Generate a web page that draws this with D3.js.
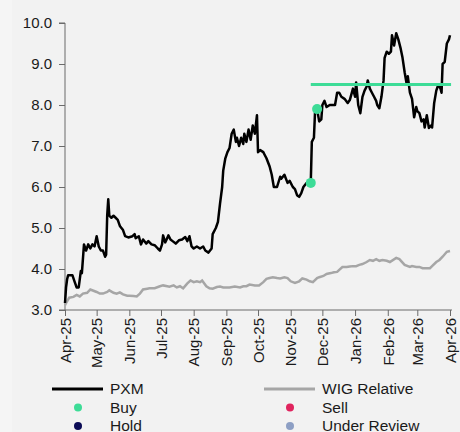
<!DOCTYPE html>
<html>
<head>
<meta charset="utf-8">
<script src="https://cdn.jsdelivr.net/npm/d3@7"></script>
<style>
  html, body { margin: 0; padding: 0; background: #f2f2f2; }
  svg { display: block; font-family: "Liberation Sans", Arial, sans-serif; }
  .axis path, .axis line { stroke: #6b6b6b; }
  .axis text { fill: #1a1a1a; font-size: 15px; }
</style>
</head>
<body>
<div id="chart"></div>
<script>
// PXM share price (PLN)
const pxm = [
  ["2025-04-01",3.17],["2025-04-02",3.55],["2025-04-03",3.75],["2025-04-04",3.85],["2025-04-08",3.85],
  ["2025-04-10",3.7],["2025-04-12",3.55],["2025-04-14",3.55],["2025-04-16",3.95],["2025-04-17",3.9],
  ["2025-04-19",4.6],["2025-04-21",4.45],["2025-04-23",4.6],["2025-04-25",4.5],["2025-04-27",4.6],
  ["2025-04-29",4.55],["2025-05-01",4.8],["2025-05-03",4.55],["2025-05-05",4.45],["2025-05-07",4.45],
  ["2025-05-09",4.3],["2025-05-10",4.35],["2025-05-11",5.3],["2025-05-12",5.7],["2025-05-13",5.3],
  ["2025-05-15",5.25],["2025-05-17",5.3],["2025-05-19",5.25],["2025-05-21",5.2],["2025-05-23",5.05],
  ["2025-05-26",4.95],["2025-05-28",4.8],["2025-05-31",4.77],["2025-06-04",4.8],["2025-06-06",4.85],
  ["2025-06-07",4.75],["2025-06-10",4.8],["2025-06-12",4.6],["2025-06-14",4.72],["2025-06-17",4.62],
  ["2025-06-19",4.68],["2025-06-22",4.6],["2025-06-25",4.58],["2025-06-28",4.5],["2025-06-30",4.45],
  ["2025-07-02",4.6],["2025-07-03",4.82],["2025-07-05",4.65],["2025-07-06",4.7],["2025-07-08",4.82],
  ["2025-07-10",4.72],["2025-07-12",4.68],["2025-07-15",4.62],["2025-07-18",4.7],["2025-07-21",4.72],
  ["2025-07-24",4.78],["2025-07-26",4.68],["2025-07-28",4.8],["2025-07-30",4.55],["2025-08-01",4.5],
  ["2025-08-04",4.55],["2025-08-07",4.5],["2025-08-10",4.55],["2025-08-12",4.45],["2025-08-15",4.4],
  ["2025-08-18",4.5],["2025-08-19",4.85],["2025-08-22",5.0],["2025-08-24",5.15],["2025-08-26",5.6],
  ["2025-08-28",6.0],["2025-08-29",6.4],["2025-08-31",6.7],["2025-09-02",6.85],["2025-09-04",6.95],
  ["2025-09-06",7.3],["2025-09-08",7.4],["2025-09-10",7.1],["2025-09-11",7.2],["2025-09-13",7.0],
  ["2025-09-15",7.2],["2025-09-17",7.05],["2025-09-18",7.3],["2025-09-20",7.1],["2025-09-22",7.4],
  ["2025-09-24",7.15],["2025-09-26",7.5],["2025-09-28",7.3],["2025-09-30",7.75],["2025-10-01",6.85],
  ["2025-10-03",6.9],["2025-10-06",6.85],["2025-10-07",6.8],["2025-10-09",6.7],["2025-10-12",6.5],
  ["2025-10-14",6.3],["2025-10-16",6.0],["2025-10-19",6.0],["2025-10-22",6.25],["2025-10-23",6.2],
  ["2025-10-26",6.3],["2025-10-29",6.1],["2025-10-31",6.15],["2025-11-03",6.0],["2025-11-05",5.95],
  ["2025-11-07",5.8],["2025-11-09",5.76],["2025-11-11",5.85],["2025-11-13",6.0],["2025-11-16",6.1],
  ["2025-11-18",6.05],["2025-11-20",6.1],["2025-11-21",7.1],["2025-11-23",7.2],["2025-11-24",7.8],
  ["2025-11-26",7.9],["2025-11-28",7.6],["2025-11-30",7.65],["2025-12-01",8.0],["2025-12-03",8.1],
  ["2025-12-05",7.95],["2025-12-08",8.0],["2025-12-11",8.0],["2025-12-13",8.0],["2025-12-15",8.3],
  ["2025-12-17",8.3],["2025-12-19",8.2],["2025-12-22",8.15],["2025-12-25",8.05],["2025-12-27",8.12],
  ["2025-12-30",8.4],["2026-01-01",8.2],["2026-01-02",8.55],["2026-01-04",8.0],["2026-01-06",7.8],
  ["2026-01-08",8.2],["2026-01-10",8.35],["2026-01-12",8.45],["2026-01-13",8.6],["2026-01-15",8.4],
  ["2026-01-17",8.3],["2026-01-19",8.2],["2026-01-21",8.1],["2026-01-22",8.0],["2026-01-24",7.92],
  ["2026-01-26",8.2],["2026-01-28",8.6],["2026-01-29",9.15],["2026-01-31",9.3],["2026-02-02",9.25],
  ["2026-02-04",9.3],["2026-02-05",9.7],["2026-02-07",9.45],["2026-02-08",9.6],["2026-02-09",9.75],
  ["2026-02-11",9.6],["2026-02-13",9.4],["2026-02-15",9.15],["2026-02-17",8.8],["2026-02-19",8.5],
  ["2026-02-20",8.7],["2026-02-22",8.3],["2026-02-24",8.15],["2026-02-26",7.7],["2026-02-28",7.95],
  ["2026-03-01",7.85],["2026-03-03",7.8],["2026-03-05",7.6],["2026-03-07",7.65],["2026-03-08",7.45],
  ["2026-03-10",7.75],["2026-03-12",7.44],["2026-03-14",7.5],["2026-03-15",7.45],["2026-03-17",8.05],
  ["2026-03-19",8.35],["2026-03-21",8.5],["2026-03-23",8.4],["2026-03-24",8.3],["2026-03-25",9.0],
  ["2026-03-27",9.05],["2026-03-29",9.5],["2026-03-31",9.6],["2026-04-01",9.7]
];

// WIG index rebased to PXM
const wig = [
  ["2025-04-01",3.12],["2025-04-02",3.17],["2025-04-05",3.3],["2025-04-09",3.32],["2025-04-12",3.37],
  ["2025-04-15",3.33],["2025-04-18",3.4],["2025-04-22",3.42],["2025-04-25",3.5],["2025-04-28",3.47],
  ["2025-05-01",3.44],["2025-05-04",3.4],["2025-05-07",3.4],["2025-05-11",3.44],["2025-05-13",3.48],
  ["2025-05-17",3.42],["2025-05-20",3.4],["2025-05-23",3.43],["2025-05-26",3.38],["2025-05-30",3.35],
  ["2025-06-01",3.35],["2025-06-05",3.34],["2025-06-08",3.33],["2025-06-11",3.4],["2025-06-14",3.5],
  ["2025-06-18",3.52],["2025-06-20",3.53],["2025-06-25",3.53],["2025-06-30",3.58],["2025-07-03",3.6],
  ["2025-07-07",3.58],["2025-07-09",3.57],["2025-07-13",3.6],["2025-07-16",3.55],["2025-07-19",3.58],
  ["2025-07-22",3.53],["2025-07-26",3.65],["2025-07-29",3.72],["2025-08-01",3.68],["2025-08-04",3.7],
  ["2025-08-07",3.68],["2025-08-09",3.72],["2025-08-13",3.58],["2025-08-16",3.53],["2025-08-19",3.52],
  ["2025-08-23",3.56],["2025-08-26",3.57],["2025-08-29",3.55],["2025-09-01",3.55],["2025-09-04",3.55],
  ["2025-09-09",3.57],["2025-09-14",3.55],["2025-09-17",3.58],["2025-09-20",3.58],["2025-09-23",3.62],
  ["2025-09-28",3.6],["2025-10-02",3.6],["2025-10-06",3.68],["2025-10-09",3.76],["2025-10-12",3.78],
  ["2025-10-15",3.8],["2025-10-19",3.78],["2025-10-22",3.77],["2025-10-26",3.8],["2025-10-29",3.78],
  ["2025-11-01",3.7],["2025-11-05",3.66],["2025-11-09",3.7],["2025-11-12",3.77],["2025-11-16",3.74],
  ["2025-11-19",3.7],["2025-11-22",3.68],["2025-11-26",3.78],["2025-11-28",3.8],["2025-12-02",3.83],
  ["2025-12-05",3.88],["2025-12-09",3.9],["2025-12-12",3.92],["2025-12-15",3.93],["2025-12-17",3.98],
  ["2025-12-20",4.05],["2025-12-24",4.05],["2025-12-27",4.06],["2025-12-30",4.07],["2026-01-02",4.07],
  ["2026-01-05",4.1],["2026-01-08",4.12],["2026-01-12",4.17],["2026-01-15",4.22],["2026-01-18",4.2],
  ["2026-01-21",4.24],["2026-01-24",4.2],["2026-01-27",4.22],["2026-01-31",4.2],["2026-02-03",4.17],
  ["2026-02-09",4.27],["2026-02-12",4.24],["2026-02-17",4.1],["2026-02-22",4.05],["2026-02-24",4.07],
  ["2026-02-28",4.05],["2026-03-03",4.05],["2026-03-06",4.02],["2026-03-09",4.02],["2026-03-13",4.02],
  ["2026-03-15",4.07],["2026-03-19",4.17],["2026-03-22",4.22],["2026-03-25",4.3],["2026-03-29",4.42],
  ["2026-04-01",4.44]
];

// recommendations (date, price)
const buyPoints = [["2025-11-20",6.1],["2025-11-26",7.9]];
// target price line
const targetPrice = 8.5;
const targetFrom = "2025-11-20";
const targetTo = "2026-04-02";

const xStart = "2025-04-01";
const xEnd = "2026-04-01";
const yTicks = [3, 4, 5, 6, 7, 8, 9, 10];

const legendLabels = ["PXM", "WIG Relative", "Buy", "Sell", "Hold", "Under Review"];
const legendColors = ["#000000", "#a6a6a6", "#3ddc97", "#e0245e", "#0b0b55", "#8d9fc4"];
const legendKinds = ["line", "line", "dot", "dot", "dot", "dot"];

const width = 460, height = 432;
const margin = { top: 23, right: 10, bottom: 122, left: 65 };
const plotW = 385, plotH = 287;

const parse = d3.timeParse("%Y-%m-%d");

const svg = d3.select("#chart").append("svg")
  .attr("width", width)
  .attr("height", height);

svg.append("rect").attr("width", width).attr("height", height).attr("fill", "#f2f2f2");
svg.append("rect").attr("width", 12).attr("height", height).attr("fill", "#f5f5f5");

const g = svg.append("g").attr("transform", `translate(${margin.left},${margin.top})`);

const x = d3.scaleTime()
  .domain([parse(xStart), parse(xEnd)])
  .range([0, plotW]);

const y = d3.scaleLinear()
  .domain([3, 10])
  .range([plotH, 0]);

// axes
g.append("g")
  .attr("class", "axis")
  .call(d3.axisLeft(y).tickValues(yTicks).tickSize(6).tickPadding(7).tickFormat(d3.format(".1f")))
  .call(a => a.select(".domain").attr("d", `M-6,${plotH}H0V0H-6`));

const xAxis = g.append("g")
  .attr("class", "axis")
  .attr("transform", `translate(0,${plotH})`)
  .call(d3.axisBottom(x).ticks(d3.timeMonth.every(1)).tickSize(6).tickSizeOuter(0).tickFormat(d3.timeFormat("%b-%y")));
xAxis.select(".domain").attr("d", `M0,0H${plotW + 2}`);
xAxis.selectAll("text")
  .attr("transform", "rotate(-90)")
  .attr("x", -8)
  .attr("y", 0)
  .attr("dy", "0.35em")
  .style("text-anchor", "end");

const line = d3.line()
  .x(d => x(parse(d[0])))
  .y(d => y(d[1]));

g.append("path")
  .datum(wig)
  .attr("fill", "none")
  .attr("stroke", "#a6a6a6")
  .attr("stroke-width", 2.5)
  .attr("d", line);

g.append("path")
  .datum(pxm)
  .attr("fill", "none")
  .attr("stroke", "#000")
  .attr("stroke-width", 2.5)
  .attr("stroke-linejoin", "round")
  .attr("d", line);

// target price
g.append("line")
  .attr("x1", x(parse(targetFrom)))
  .attr("x2", x(parse(targetTo)))
  .attr("y1", y(targetPrice))
  .attr("y2", y(targetPrice))
  .attr("stroke", "#3ddc97")
  .attr("stroke-width", 3);

g.selectAll("circle.buy")
  .data(buyPoints)
  .enter()
  .append("circle")
  .attr("class", "buy")
  .attr("cx", d => x(parse(d[0])))
  .attr("cy", d => y(d[1]))
  .attr("r", 5)
  .attr("fill", "#3ddc97");

// legend
const legend = svg.append("g").attr("transform", "translate(52,389)");
legendLabels.forEach((label, i) => {
  const col = i % 2, row = Math.floor(i / 2);
  const item = legend.append("g").attr("transform", `translate(${col * 212},${row * 18.5})`);
  if (legendKinds[i] === "line") {
    item.append("line")
      .attr("x1", 0).attr("x2", 51)
      .attr("stroke", legendColors[i])
      .attr("stroke-width", 3);
  } else {
    item.append("circle")
      .attr("cx", 26).attr("r", 4)
      .attr("fill", legendColors[i]);
  }
  item.append("text")
    .attr("x", 58)
    .attr("dy", "0.35em")
    .attr("font-size", 15.5)
    .attr("fill", "#1a1a1a")
    .text(label);
});
</script>
</body>
</html>
